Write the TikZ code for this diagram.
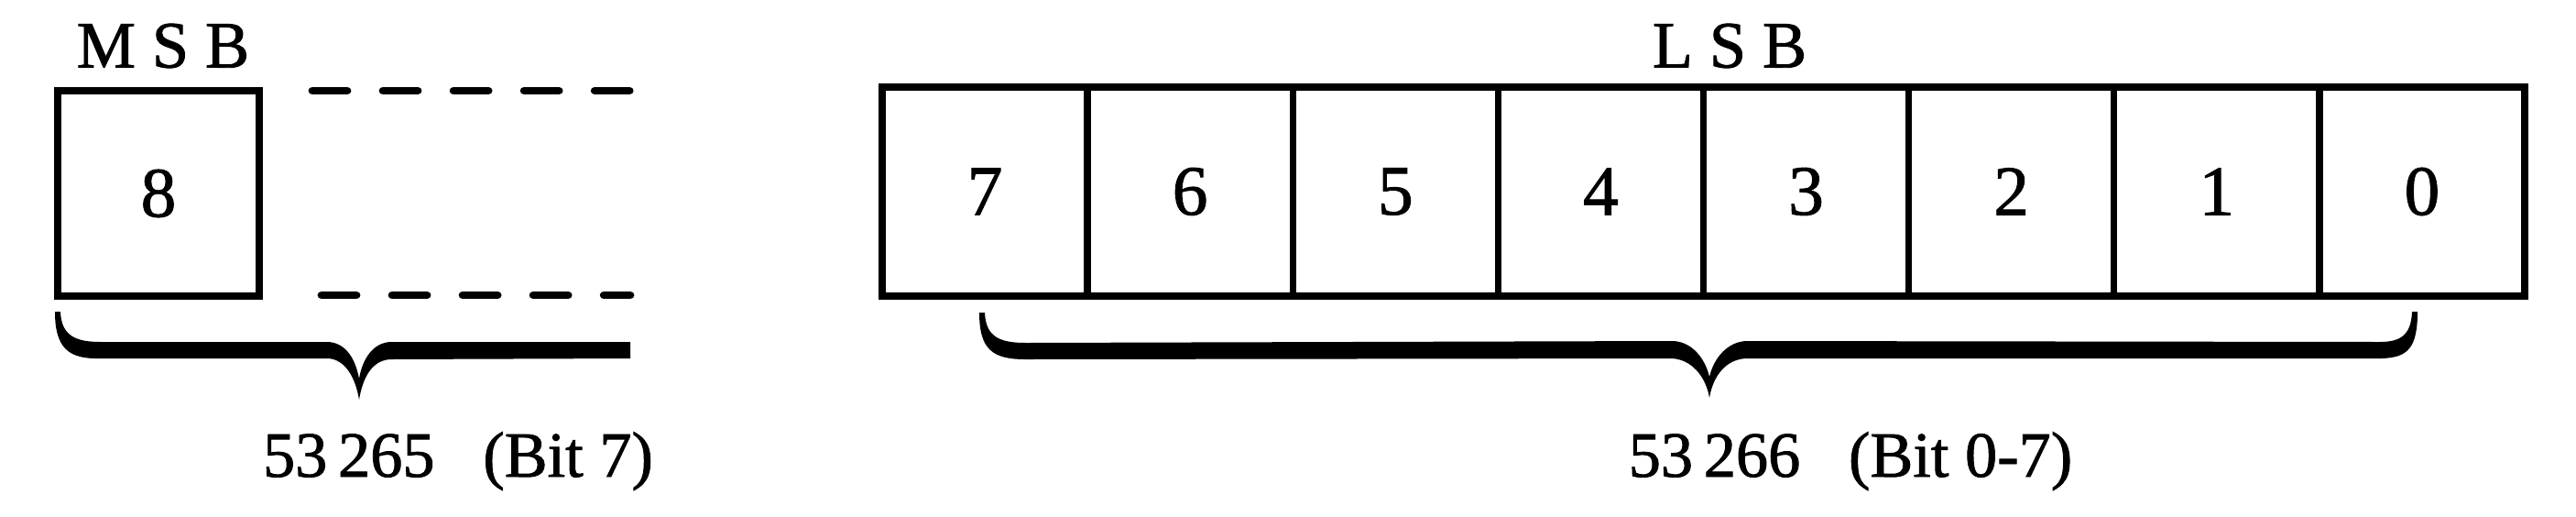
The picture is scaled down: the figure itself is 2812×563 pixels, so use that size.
\documentclass[tikz,border=0pt]{standalone}
\usepackage{fontspec}
\setmainfont{Liberation Serif}[FakeBold=1.2]
\usetikzlibrary{positioning}

\tikzset{
  bitbox/.style={draw, line width=2.1pt, inner sep=0pt, outer sep=0pt,
    minimum width=2.24cm, minimum height=2.28cm,
    font=\fontsize{22}{26}\selectfont},
  dashline/.style={line width=2.5pt, line cap=round,
    dash pattern=on 0.38cm off 0.39cm},
  lbl/.style={inner sep=0pt, font=\fontsize{20.5}{24}\selectfont},
  addr/.style={inner sep=0pt, anchor=base, font=\fontsize{20}{24}\selectfont}
}

\begin{document}
\begin{tikzpicture}[x=0.01cm,y=-0.01cm]
\useasboundingbox (0,0) rectangle (2812,563);

% high byte, only bit 8 used
\node[bitbox, minimum width=2.2cm, minimum height=2.24cm] (m8) at (173,211) {8};
\node[lbl] (msb) at (178,50) {M S B};
\coordinate (ta) at (341,99);  \coordinate (tb) at (688,99);
\coordinate (ba) at (351,322); \coordinate (bb) at (688,322);
\draw[dashline] (ta)--(tb);
\draw[dashline] (ba)--(bb);

% low byte, bits 7..0
\node[bitbox] (c7) at (1075,209) {7};
\foreach \b [remember=\b as \p (initially 7)] in {6,5,4,3,2,1,0}
{
   \node[bitbox, right=0pt of c\p] (c\b) {\b};
}
\node[lbl] (lsb) at (1888,50) {L S B};

% braces
\fill (60,340) .. controls (60,380) and (75,392) .. (110,391) -- (358,391)
  .. controls (377,392) and (388,412) .. (392,436)
  .. controls (396,412) and (406,393) .. (426,392) -- (688,391) -- (688,373)
  -- (426,373) .. controls (408,374) and (396,390) .. (392,413)
  .. controls (388,392) and (378,374) .. (358,373) -- (110,373)
  .. controls (82,373) and (67,366) .. (66,340) -- cycle;
\fill (1069,341) .. controls (1069,382) and (1084,392) .. (1120,392) -- (1825,391)
  .. controls (1846,392) and (1862,410) .. (1866,434)
  .. controls (1870,410) and (1884,392) .. (1906,391) -- (2600,391)
  .. controls (2628,390) and (2639,380) .. (2639,340) -- (2633,340)
  .. controls (2632,364) and (2622,373) .. (2598,373) -- (1906,372)
  .. controls (1886,373) and (1871,390) .. (1866,411)
  .. controls (1861,390) and (1846,372) .. (1825,372) -- (1120,374)
  .. controls (1092,374) and (1076,368) .. (1075,341) -- cycle;

\node[addr] (hi) at (500,520) {53\,265\hspace{0.75em}(Bit 7)};
\node[addr] (lo) at (2020,520) {53\,266\hspace{0.75em}(Bit 0-7)};
\end{tikzpicture}
\end{document}
